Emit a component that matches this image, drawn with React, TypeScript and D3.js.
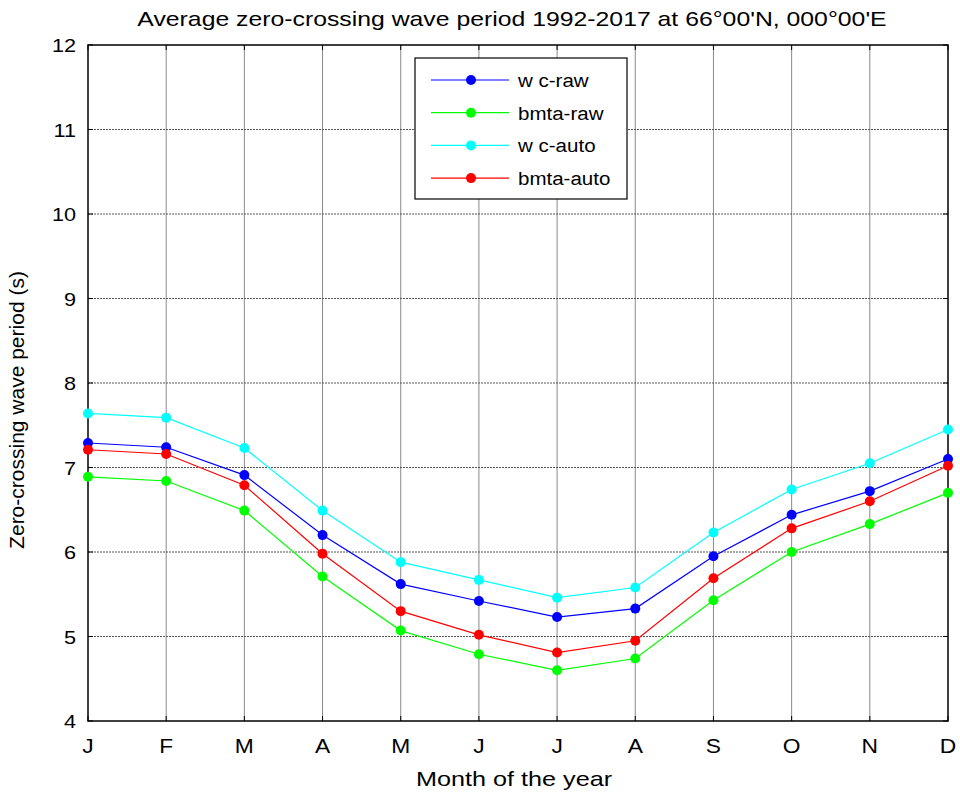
import React, { useEffect, useRef } from "react";
import * as d3 from "d3";

const months = ["J", "F", "M", "A", "M", "J", "J", "A", "S", "O", "N", "D"];
const wcRaw = [7.29, 7.24, 6.91, 6.2, 5.62, 5.42, 5.23, 5.33, 5.95, 6.44, 6.72, 7.1];
const bmtaRaw = [6.89, 6.84, 6.49, 5.71, 5.07, 4.79, 4.6, 4.74, 5.43, 6.0, 6.33, 6.7];
const wcAuto = [7.64, 7.59, 7.23, 6.49, 5.88, 5.67, 5.46, 5.58, 6.23, 6.74, 7.05, 7.45];
const bmtaAuto = [7.21, 7.16, 6.79, 5.98, 5.3, 5.02, 4.81, 4.95, 5.69, 6.28, 6.6, 7.02];
const yTicks = [4, 5, 6, 7, 8, 9, 10, 11, 12];

const series = [
  { name: "w c-raw", color: "#0000ff", values: wcRaw },
  { name: "bmta-raw", color: "#00ff00", values: bmtaRaw },
  { name: "w c-auto", color: "#00ffff", values: wcAuto },
  { name: "bmta-auto", color: "#ff0000", values: bmtaAuto },
];

// text in the original is a bit wider than plain Arial
const stretch = (sel: any, k = 1.14) => {
  sel.each(function (this: SVGTextElement) {
    const w = this.getComputedTextLength();
    d3.select(this).attr("textLength", w * k).attr("lengthAdjust", "spacingAndGlyphs");
  });
};

const App = () => {
  const ref = useRef<SVGSVGElement>(null);

  useEffect(() => {
    const svg = d3.select(ref.current);
    svg.selectAll("*").remove();

    const left = 88, right = 948, top = 45, bottom = 721;
    const font = "'Liberation Sans', Arial, sans-serif";

    const x = d3.scaleLinear().domain([0, 11]).range([left, right]);
    const y = d3.scaleLinear().domain([4, 12]).range([bottom, top]);

    svg.append("rect").attr("width", 960).attr("height", 793).attr("fill", "#fff");

    // grid
    svg.append("g").selectAll("line")
      .data(d3.range(1, 11))
      .join("line")
      .attr("x1", d => x(d)).attr("x2", d => x(d))
      .attr("y1", top).attr("y2", bottom)
      .attr("stroke", "#8a8a8a").attr("stroke-width", 1);

    svg.append("g").selectAll("line")
      .data(yTicks.slice(1, -1))
      .join("line")
      .attr("x1", left).attr("x2", right)
      .attr("y1", d => y(d)).attr("y2", d => y(d))
      .attr("stroke", "#555").attr("stroke-width", 1)
      .attr("stroke-dasharray", "2,1");

    // axes box
    svg.append("rect")
      .attr("x", left).attr("y", top)
      .attr("width", right - left).attr("height", bottom - top)
      .attr("fill", "none").attr("stroke", "#000").attr("stroke-width", 1.5);

    // ticks
    const tk = 5;
    const tg = svg.append("g").attr("stroke", "#000").attr("stroke-width", 1);
    yTicks.forEach(v => {
      tg.append("line").attr("x1", left).attr("x2", left + tk).attr("y1", y(v)).attr("y2", y(v));
      tg.append("line").attr("x1", right).attr("x2", right - tk).attr("y1", y(v)).attr("y2", y(v));
    });
    months.forEach((_, i) => {
      tg.append("line").attr("x1", x(i)).attr("x2", x(i)).attr("y1", bottom).attr("y2", bottom - tk);
      tg.append("line").attr("x1", x(i)).attr("x2", x(i)).attr("y1", top).attr("y2", top + tk);
    });

    // tick labels
    svg.append("g").selectAll("text")
      .data(yTicks)
      .join("text")
      .attr("x", left - 12).attr("y", d => y(d) + 7)
      .attr("text-anchor", "end")
      .attr("font-family", font).attr("font-size", 19)
      .text(d => d)
      .call(stretch);

    svg.append("g").selectAll("text")
      .data(months)
      .join("text")
      .attr("x", (_, i) => x(i)).attr("y", bottom + 32)
      .attr("text-anchor", "middle")
      .attr("font-family", font).attr("font-size", 20)
      .text(d => d)
      .call(stretch);

    // titles
    svg.append("text")
      .attr("x", 512).attr("y", 26)
      .attr("text-anchor", "middle")
      .attr("font-family", font).attr("font-size", 21)
      .text("Average zero-crossing wave period 1992-2017 at 66°00'N, 000°00'E")
      .call(stretch, 1.18);

    svg.append("text")
      .attr("x", 514).attr("y", 786)
      .attr("text-anchor", "middle")
      .attr("font-family", font).attr("font-size", 21)
      .text("Month of the year")
      .call(stretch, 1.2);

    svg.append("text")
      .attr("transform", `translate(24, 410) rotate(-90)`)
      .attr("text-anchor", "middle")
      .attr("font-family", font).attr("font-size", 21)
      .text("Zero-crossing wave period (s)")
      .call(stretch, 1.0);

    // series
    const line = d3.line<number>().x((_, i) => x(i)).y(d => y(d));
    series.forEach(s => {
      svg.append("path")
        .attr("d", line(s.values))
        .attr("fill", "none").attr("stroke", s.color).attr("stroke-width", 1.2);
      svg.append("g").selectAll("circle")
        .data(s.values)
        .join("circle")
        .attr("cx", (_, i) => x(i)).attr("cy", d => y(d))
        .attr("r", 5).attr("fill", s.color);
    });

    // legend
    const lg = svg.append("g");
    lg.append("rect")
      .attr("x", 415).attr("y", 58).attr("width", 212).attr("height", 141)
      .attr("fill", "#fff").attr("stroke", "#000").attr("stroke-width", 1.2);
    series.forEach((s, i) => {
      const ly = 80 + i * 32.7;
      lg.append("line").attr("x1", 431).attr("x2", 509).attr("y1", ly).attr("y2", ly)
        .attr("stroke", s.color).attr("stroke-width", 1.2);
      lg.append("circle").attr("cx", 471).attr("cy", ly).attr("r", 5).attr("fill", s.color);
      lg.append("text").attr("x", 518).attr("y", ly + 7)
        .attr("font-family", font).attr("font-size", 18)
        .text(s.name)
        .call(stretch);
    });
  }, []);

  return (
    <svg ref={ref} width={960} height={793}
      style={{ position: "absolute", left: 0, top: 0, display: "block" }} />
  );
};

export default App;
